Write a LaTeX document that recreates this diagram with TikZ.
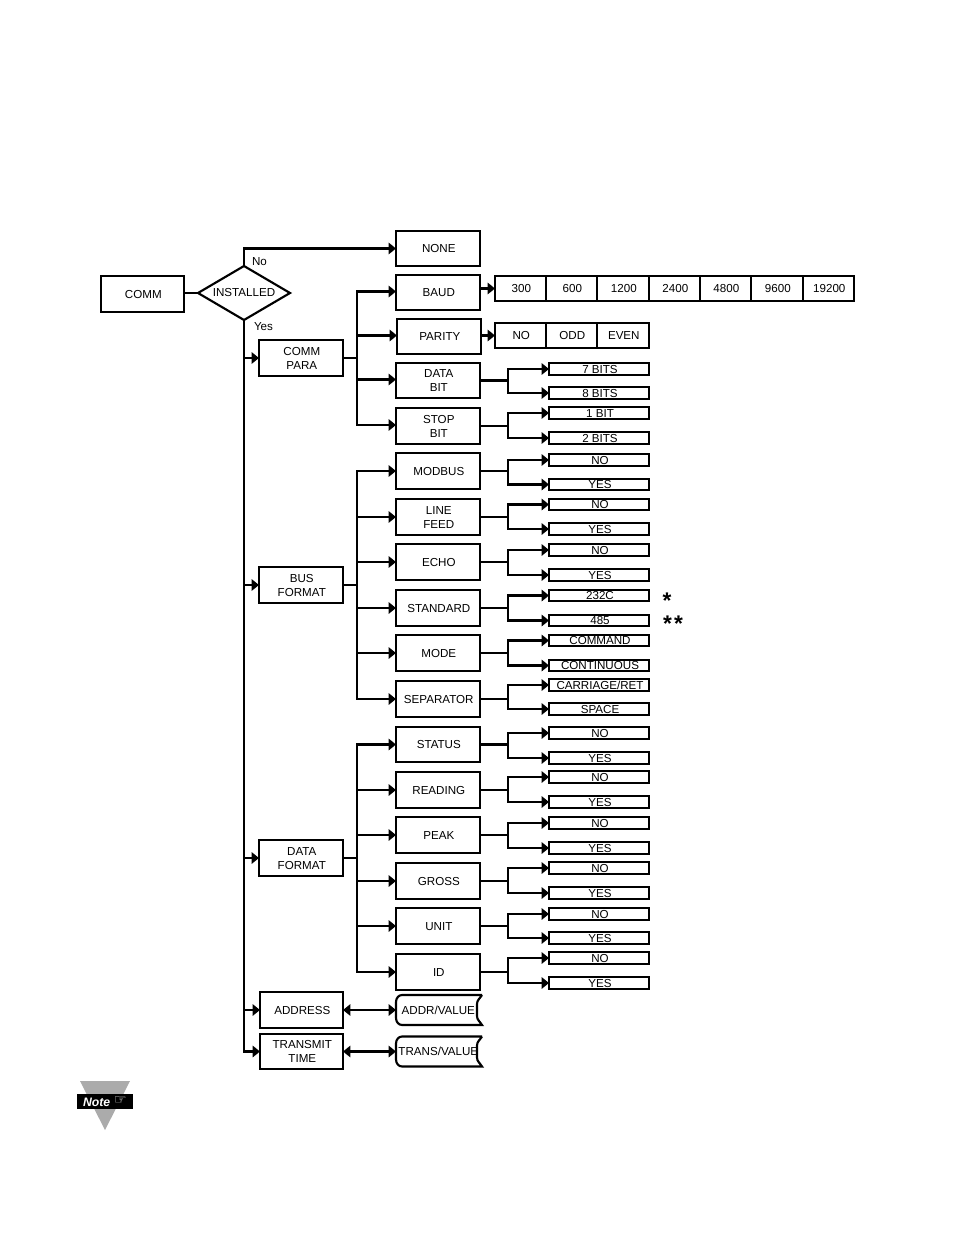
\documentclass[tikz,border=0pt]{standalone}
\usepackage{fontspec}
\setmainfont{Liberation Sans}
\newfontfamily\symfont{DejaVu Sans}
\usetikzlibrary{shapes.geometric,arrows.meta}
\tikzset{
  x=0.75pt,y=-0.75pt,
  every node/.style={font=\fontsize{8.7}{10.5}\selectfont,inner sep=0pt,outer sep=0pt},
  box/.style={draw=black,line width=1.6pt,fill=white,align=center},
  boxtext/.style={align=center},
  thinbox/.style={draw=black,line width=1.6pt,fill=white},
  conn/.style={draw=black,line width=1.6pt},
  arr/.style={conn,-{Triangle[length=5.5pt,width=8.5pt]}},
  dbl/.style={conn,{Triangle[length=5.5pt,width=8.5pt]}-{Triangle[length=5.5pt,width=8.5pt]}},
  starmark/.style={font=\fontsize{17}{17}\selectfont\bfseries},
}
\newcommand{\bx}[6]{\node[box,minimum width={(#4-#2)*0.75pt},minimum height={(#5-#3)*0.75pt}] (#1) at ({(#2+#4)/2},{(#3+#5)/2}) {};
  \node[boxtext] (#1t) at ({(#2+#4)/2+0.8},{(#3+#5)/2+0.4}) {#6};}
\newcommand{\opt}[4]{\node[thinbox,minimum width={100*0.75pt},minimum height={(#3-#2)*0.75pt}] (#1) at (599,{(#2+#3)/2}) {};
  \node[anchor=base] (#1t) at (600,#3-1.2) {#4};}
\newcommand{\branch}[3]{\draw[conn] (#1.east) -- (bx |- #1.east) coordinate (#1j);
  \draw[arr] (#1j) |- (#2.west); \draw[arr] (#1j) |- (#3.west);}
\newcommand{\valbox}[3]{\node[minimum width={86*0.75pt},minimum height={30*0.75pt}] (#1) at (439,#2) {#3};
  \draw[conn] (#1.north east) -- ++(-80,0) to[out=180,in=90] ++(-6,7) -- ++(0,16) to[out=270,in=180] ++(6,7) -- (#1.south east) to[out=120,in=-90] ++(-5,-9) -- ++(0,-12) to[out=90,in=-120] (#1.north east);}
\begin{document}
\begin{tikzpicture}
\useasboundingbox (0,0) rectangle (954,1248);
\coordinate (bx) at (508,0);
\coordinate (tb) at (357,0);
% left column
\bx{comm}{101}{276}{184}{312}{COMM}
\node[diamond,draw=black,line width=1.6pt,fill=white,aspect=1.7,minimum width={92*0.75pt},minimum height={54*0.75pt}] (inst) at (244,293) {INSTALLED};
\bx{para}{259}{340}{343}{376}{COMM\\PARA}
\bx{bus}{259}{567}{343}{603}{BUS\\FORMAT}
\bx{dfmt}{259}{840}{343}{876}{DATA\\FORMAT}
\bx{addr}{260}{992}{343}{1028}{ADDRESS}
\bx{trans}{260}{1034}{343}{1069}{TRANSMIT\\TIME}
% middle column
\bx{none}{396}{231}{480}{266}{NONE}
\bx{baud}{396}{275}{480}{310}{BAUD}
\bx{parity}{397}{319}{481}{354}{PARITY}
\bx{dbit}{396}{363}{480}{398}{DATA\\BIT}
\bx{sbit}{396}{408}{480}{444}{STOP\\BIT}
\bx{modbus}{396}{453}{480}{489}{MODBUS}
\bx{lfeed}{396}{499}{480}{535}{LINE\\FEED}
\bx{echo}{396}{544}{480}{580}{ECHO}
\bx{std}{396}{590}{480}{626}{STANDARD}
\bx{mode}{396}{635}{480}{671}{MODE}
\bx{sep}{396}{681}{480}{717}{SEPARATOR}
\bx{status}{396}{727}{480}{762}{STATUS}
\bx{reading}{396}{772}{480}{808}{READING}
\bx{peak}{396}{817}{480}{853}{PEAK}
\bx{gross}{396}{863}{480}{899}{GROSS}
\bx{unit}{396}{908}{480}{944}{UNIT}
\bx{idb}{396}{954}{480}{990}{ID}
\valbox{aval}{1010}{\hspace*{-1pt}ADDR/VALUE}
\valbox{tval}{1051.5}{\hspace*{-1pt}TRANS/VALUE}
% baud row
\bx{b1}{495}{276}{546}{301}{300}
\bx{b2}{546}{276}{597}{301}{600}
\bx{b3}{597}{276}{649}{301}{1200}
\bx{b4}{649}{276}{700}{301}{2400}
\bx{b5}{700}{276}{751}{301}{4800}
\bx{b6}{751}{276}{803}{301}{9600}
\bx{b7}{803}{276}{854}{301}{19200}
% parity row
\bx{p1}{495}{323}{546}{348}{NO}
\bx{p2}{546}{323}{597}{348}{ODD}
\bx{p3}{597}{323}{649}{348}{EVEN}
% options
\opt{o1}{363}{375}{7 BITS}
\opt{o2}{387}{399}{8 BITS}
\opt{o3}{407}{419}{1 BIT}
\opt{o4}{432}{444}{2 BITS}
\opt{o5}{454}{466}{NO}
\opt{o6}{479}{490}{YES}
\opt{o7}{499}{510}{NO}
\opt{o8}{523}{535}{YES}
\opt{o9}{544}{556}{NO}
\opt{o10}{569}{581}{YES}
\opt{o11}{590}{601}{232C}
\opt{o12}{615}{626}{485}
\opt{o13}{635}{646}{COMMAND}
\opt{o14}{660}{671}{CONTINUOUS}
\opt{o15}{679}{691}{CARRIAGE/RET}
\opt{o16}{703}{715}{SPACE}
\opt{o17}{727}{739}{NO}
\opt{o18}{752}{764}{YES}
\opt{o19}{771}{783}{NO}
\opt{o20}{796}{808}{YES}
\opt{o21}{817}{829}{NO}
\opt{o22}{842}{854}{YES}
\opt{o23}{862}{874}{NO}
\opt{o24}{887}{899}{YES}
\opt{o25}{908}{920}{NO}
\opt{o26}{932}{944}{YES}
\opt{o27}{952}{964}{NO}
\opt{o28}{977}{989}{YES}
% connectors
\draw[conn] (inst.west -| comm.east) -- (inst.west);
\draw[arr] (inst.north) |- (none.west);
\draw[arr] (inst.south) |- (para.west);
\draw[arr] (inst.south) |- (bus.west);
\draw[arr] (inst.south) |- (dfmt.west);
\draw[arr] (inst.south) |- (addr.west);
\draw[arr] (inst.south) |- (trans.west);
\draw[conn] (para.east) -- (tb |- para.east) coordinate (j1);
\foreach \t in {baud,parity,dbit,sbit} \draw[arr] (j1) |- ([yshift=0.75pt]\t.west);
\draw[conn] (bus.east) -- (tb |- bus.east) coordinate (j2);
\foreach \t in {modbus,lfeed,echo,std,mode,sep} \draw[arr] (j2) |- (\t.west);
\draw[conn] (dfmt.east) -- (tb |- dfmt.east) coordinate (j3);
\foreach \t in {status,reading,peak,gross,unit,idb} \draw[arr] (j3) |- (\t.west);
\draw[arr] (b1.west -| baud.east) -- (b1.west);
\draw[arr] (p1.west -| parity.east) -- (p1.west);
\branch{dbit}{o1}{o2}
\branch{sbit}{o3}{o4}
\branch{modbus}{o5}{o6}
\branch{lfeed}{o7}{o8}
\branch{echo}{o9}{o10}
\branch{std}{o11}{o12}
\branch{mode}{o13}{o14}
\branch{sep}{o15}{o16}
\branch{status}{o17}{o18}
\branch{reading}{o19}{o20}
\branch{peak}{o21}{o22}
\branch{gross}{o23}{o24}
\branch{unit}{o25}{o26}
\branch{idb}{o27}{o28}
\draw[dbl] (addr.east) -- (aval.west);
\draw[dbl] (trans.east) -- (tval.west);
% labels
\node[anchor=west] (lno) at (252,262) {No};
\node[anchor=west] (lyes) at (254,327) {Yes};
\node[starmark] (s1) at (667,601) {*};
\node[starmark] (s2) at (673,624) {*\hspace{1.5pt}*};
% note
\fill[black!33] (80,1081) -- (130,1081) -- (105,1130) -- cycle;
\node[fill=black,text=white,minimum width={56*0.75pt},minimum height={15*0.75pt}] (note) at (105,1101.5) {};
\node[anchor=west,text=white,font=\fontsize{9.2}{10}\selectfont\bfseries\itshape] (nt) at (83,1102) {Note};
\node[anchor=west,text=white,font=\fontsize{10.5}{10}\selectfont\symfont] (nh) at (114,1101) {☞};
\end{tikzpicture}
\end{document}
